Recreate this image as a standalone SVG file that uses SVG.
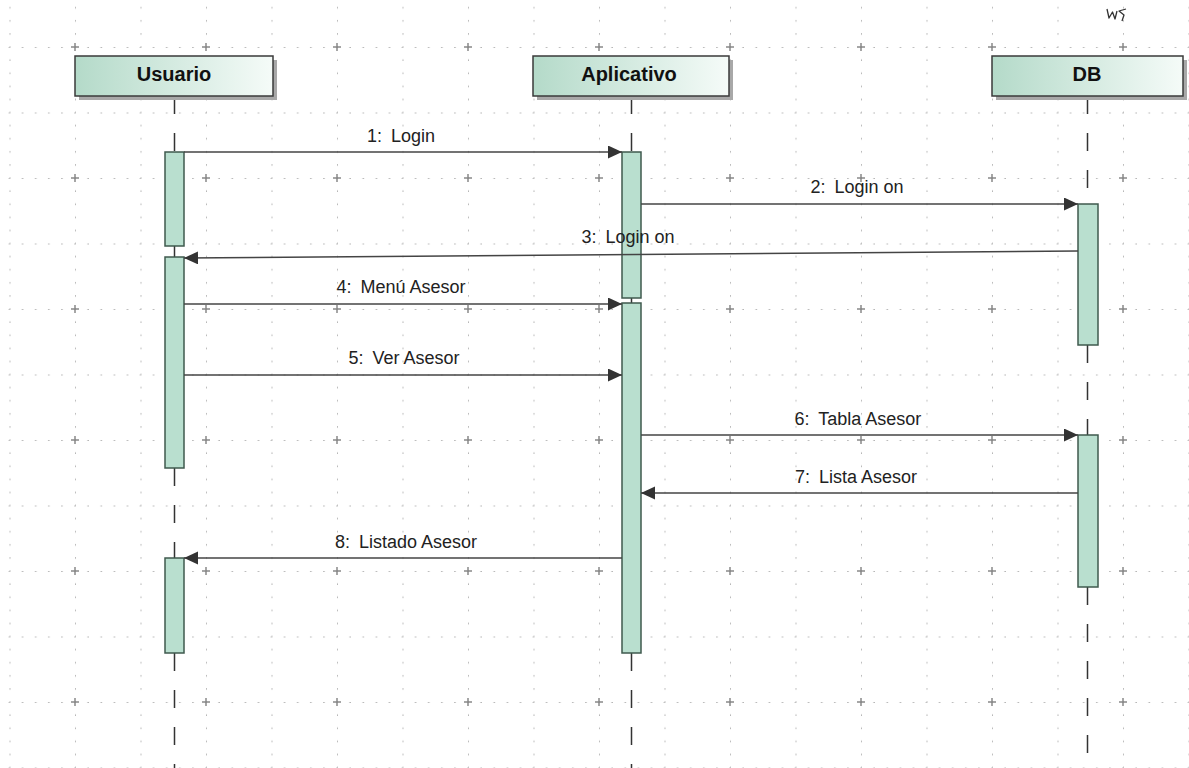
<svg xmlns="http://www.w3.org/2000/svg" width="1189" height="768" viewBox="0 0 1189 768">
<style>
.hdr{stroke:#3a3a3a;stroke-width:1.5;fill:url(#hg)}
.shd{fill:#a8a8a8}
.htxt{font-family:"Liberation Sans",Arial,sans-serif;font-weight:bold;font-size:20px;fill:#111;text-anchor:middle}
.act{fill:#b9dfcf;stroke:#3f5a4e;stroke-width:1.5}
.life{stroke:#333;stroke-width:1.5;stroke-dasharray:18 19;fill:none}
.msg{stroke:#444;stroke-width:1.6;fill:none;marker-end:url(#ah)}
.lbl{font-family:"Liberation Sans",Arial,sans-serif;font-size:18px;fill:#222;text-anchor:middle}
</style>
<defs>
<linearGradient id="hg" x1="0" y1="0" x2="1" y2="0">
<stop offset="0" stop-color="#b4dac9"/>
<stop offset="1" stop-color="#f5fbf8"/>
</linearGradient>
<pattern id="grid" patternUnits="userSpaceOnUse" x="9.5" y="47" width="65.5" height="65.5">
<g fill="#9a9a9a">
<rect x="-0.7" y="-0.7" width="1.5" height="1.5"/>
<rect x="12.4" y="-0.7" width="1.5" height="1.5"/>
<rect x="25.5" y="-0.7" width="1.5" height="1.5"/>
<rect x="38.6" y="-0.7" width="1.5" height="1.5"/>
<rect x="51.7" y="-0.7" width="1.5" height="1.5"/>
<rect x="-0.7" y="12.4" width="1.5" height="1.5"/>
<rect x="-0.7" y="25.5" width="1.5" height="1.5"/>
<rect x="-0.7" y="38.6" width="1.5" height="1.5"/>
<rect x="-0.7" y="51.7" width="1.5" height="1.5"/>
<rect x="64.8" y="-0.7" width="1.5" height="1.5"/>
<rect x="-0.7" y="64.8" width="1.5" height="1.5"/>
</g>
</pattern>
<pattern id="cross" patternUnits="userSpaceOnUse" x="75" y="47" width="131" height="131">
<g stroke="#888" stroke-width="1.5">
<line x1="-4" y1="0" x2="4" y2="0"/>
<line x1="0" y1="-4" x2="0" y2="4"/>
<line x1="127" y1="0" x2="135" y2="0"/>
<line x1="131" y1="-4" x2="131" y2="4"/>
<line x1="-4" y1="131" x2="4" y2="131"/>
<line x1="0" y1="127" x2="0" y2="135"/>
<line x1="127" y1="131" x2="135" y2="131"/>
<line x1="131" y1="127" x2="131" y2="135"/>
</g>
</pattern>
<marker id="ah" markerUnits="userSpaceOnUse" markerWidth="16" markerHeight="14" refX="14" refY="6.5" orient="auto">
<path d="M0,0 L14,6.5 L0,13 Z" fill="#333"/>
</marker>
</defs>
<rect x="0" y="0" width="1189" height="768" fill="#fff"/>
<rect x="0" y="0" width="1189" height="768" fill="url(#grid)"/>
<rect x="0" y="0" width="1189" height="768" fill="url(#cross)"/>
<path d="M1107,9 L1109,18 L1112.5,12 L1115,19 L1117,11 M1126,9 L1119,11 L1124,15 L1122,21" stroke="#333" stroke-width="1.3" fill="none" stroke-linejoin="round"/>

<g id="lifelines">
<line class="life" x1="174.5" y1="96" x2="174.5" y2="152"/>
<line class="life" x1="174.5" y1="246" x2="174.5" y2="257"/>
<line class="life" x1="174.5" y1="468" x2="174.5" y2="558"/>
<line class="life" x1="174.5" y1="653" x2="174.5" y2="768"/>
<line class="life" x1="631.5" y1="96" x2="631.5" y2="152"/>
<line class="life" x1="631.5" y1="298" x2="631.5" y2="303"/>
<line class="life" x1="631.5" y1="653" x2="631.5" y2="768"/>
<line class="life" x1="1087.5" y1="96" x2="1087.5" y2="204"/>
<line class="life" x1="1087.5" y1="345" x2="1087.5" y2="435"/>
<line class="life" x1="1087.5" y1="587" x2="1087.5" y2="768"/>
</g>

<g id="usuario">
<rect class="shd" x="79" y="60" width="198" height="40"/>
<rect class="hdr" x="75" y="56" width="198" height="40"/>
<text class="htxt" x="174" y="81">Usuario</text>
<rect class="act" x="165" y="152" width="19" height="94"/>
<rect class="act" x="165" y="257" width="19" height="211"/>
<rect class="act" x="165" y="558" width="19" height="95"/>
</g>

<g id="aplicativo">
<rect class="shd" x="537" y="60" width="196" height="40"/>
<rect class="hdr" x="533" y="56" width="196" height="40"/>
<text class="htxt" x="629" y="81">Aplicativo</text>
<rect class="act" x="622" y="152" width="19" height="146"/>
<rect class="act" x="622" y="303" width="19" height="350"/>
</g>

<g id="db">
<rect class="shd" x="996" y="60" width="191" height="40"/>
<rect class="hdr" x="992" y="56" width="191" height="40"/>
<text class="htxt" x="1087" y="81">DB</text>
<rect class="act" x="1078" y="204" width="20" height="141"/>
<rect class="act" x="1078" y="435" width="20" height="152"/>
</g>

<g id="connectors">
<line class="msg" x1="184" y1="152" x2="622" y2="152"/>
<text class="lbl" x="401" y="142">1:<tspan dx="4"> Login</tspan></text>
<line class="msg" x1="641" y1="204" x2="1078" y2="204"/>
<text class="lbl" x="857" y="193">2:<tspan dx="4"> Login on</tspan></text>
<line class="msg" x1="1078" y1="251" x2="184" y2="258"/>
<text class="lbl" x="628" y="243">3:<tspan dx="4"> Login on</tspan></text>
<line class="msg" x1="184" y1="304" x2="622" y2="304"/>
<text class="lbl" x="401" y="293">4:<tspan dx="4"> Menú Asesor</tspan></text>
<line class="msg" x1="184" y1="375" x2="622" y2="375"/>
<text class="lbl" x="404" y="364">5:<tspan dx="4"> Ver Asesor</tspan></text>
<line class="msg" x1="641" y1="435" x2="1078" y2="435"/>
<text class="lbl" x="858" y="425">6:<tspan dx="4"> Tabla Asesor</tspan></text>
<line class="msg" x1="1078" y1="493" x2="641" y2="493"/>
<text class="lbl" x="856" y="483">7:<tspan dx="4"> Lista Asesor</tspan></text>
<line class="msg" x1="622" y1="558" x2="184" y2="558"/>
<text class="lbl" x="406" y="548">8:<tspan dx="4"> Listado Asesor</tspan></text>
</g>
</svg>
